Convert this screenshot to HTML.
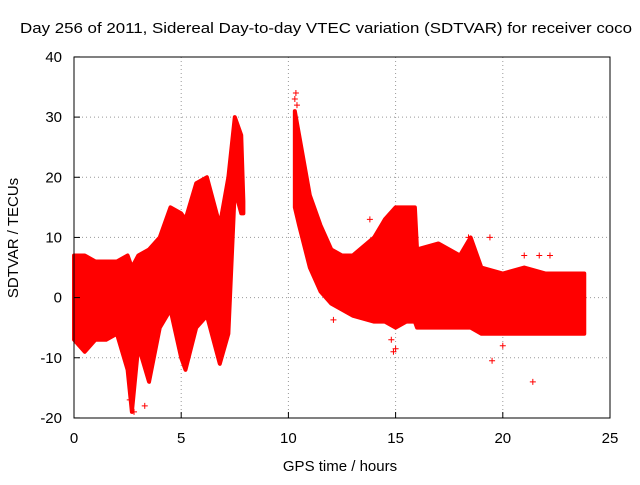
<!DOCTYPE html>
<html><head><meta charset="utf-8"><style>
body{margin:0;background:#fff;}
svg text{font-family:"Liberation Sans",sans-serif;font-size:15px;fill:#000;}
</style></head><body>
<svg id="chart" width="640" height="480">
<text x="20" y="33" textLength="612" lengthAdjust="spacingAndGlyphs">Day 256 of 2011, Sidereal Day-to-day VTEC variation (SDTVAR) for receiver coco</text>
<text x="340" y="471" text-anchor="middle">GPS time / hours</text>
<text transform="translate(18,238) rotate(-90)" text-anchor="middle">SDTVAR / TECUs</text>
<g id="grid"></g><g id="marks"></g><g id="ticks"></g>
<rect x="74" y="57" width="536" height="361" fill="none" stroke="#000"/>
</svg>
<script>
const xTicks=[0,5,10,15,20,25];
const yTicks=[-20,-10,0,10,20,30,40];
const times=[0,0.5,1,1.5,2,2.5,2.7,3,3.5,4,4.5,5,5.2,5.7,6.2,6.8,7.2,7.5,7.8,7.9];
const upper=[7,7,6,6,6,7,5,7,8,10,15,14,13,19,20,12,20,30,27,16];
const lower=[-7,-9,-7,-7,-6,-12,-19,-8,-14,-5,-2,-10,-12,-5,-3,-11,-6,18,14,14];
const times2=[10.3,10.5,11,11.5,12,12.5,13,14,14.5,15,15.5,15.9,16,17,18,18.5,19,20,21,22,23,23.8];
const upper2=[31,27,17,12,8,7,7,10,13,15,15,15,8,9,7,10,5,4,5,4,4,4];
const lower2=[15,12,5,1,-1,-2,-3,-4,-4,-5,-4,-4,-5,-5,-5,-5,-6,-6,-6,-6,-6,-6];
const outX=[10.35,10.3,10.4,13.8,14.8,14.9,15,19.5,21.4,20,12.1,2.8,3.3,2.6,18.4,19.4,21.0,21.7,22.2];
const outY=[34,33,32,13,-7,-9,-8.5,-10.5,-14,-8,-3.7,-19,-18,-17,10,10,7,7,7];
const X=v=>74+v*536/25, Y=v=>297.6-v*361/60;
const ns="http://www.w3.org/2000/svg";
const g=document.getElementById('grid'),m=document.getElementById('marks'),t=document.getElementById('ticks');
function el(n,a,p){const e=document.createElementNS(ns,n);for(const k in a)e.setAttribute(k,a[k]);p.appendChild(e);return e;}
xTicks.forEach(v=>{
 if(v>0&&v<25){const l=el('line',{x1:X(v),x2:X(v),y1:57,y2:418,stroke:'#999','stroke-dasharray':'1,3'},g);
 
 }
 const tx=el('text',{x:X(v),y:443,'text-anchor':'middle'},t);tx.textContent=v;
 
 
 el('line',{x1:X(v),x2:X(v),y1:418,y2:412,stroke:'#000'},t);
});
yTicks.forEach(v=>{
 if(v>-20&&v<40){const l=el('line',{x1:74,x2:610,y1:Y(v),y2:Y(v),stroke:'#999','stroke-dasharray':'1,3'},g);
 
 }
 const tx=el('text',{x:62,y:Y(v)+5,'text-anchor':'end'},t);tx.textContent=v;
 
 
 el('line',{x1:74,x2:80,y1:Y(v),y2:Y(v),stroke:'#000'},t);
});
function band(ts,up,lo,name){
 let pts=ts.map((v,i)=>X(v)+','+Y(up[i]));
 for(let i=ts.length-1;i>=0;i--)pts.push(X(ts[i])+','+Y(lo[i]));
 const p=el('polygon',{points:pts.join(' '),fill:'#f00',stroke:'#f00','stroke-width':4,'stroke-linejoin':'round'},m);
 
 
}
band(times,upper,lower,'sdtvar-band-early');
band(times2,upper2,lower2,'sdtvar-band-late');
outX.forEach((v,i)=>{
 const x=X(v),y=Y(outY[i]);
 const p=el('path',{d:`M${x-3},${y}h6M${x},${y-3}v6`,stroke:'#f00','stroke-width':1},m);
 
 
});
</script>
</body></html>
